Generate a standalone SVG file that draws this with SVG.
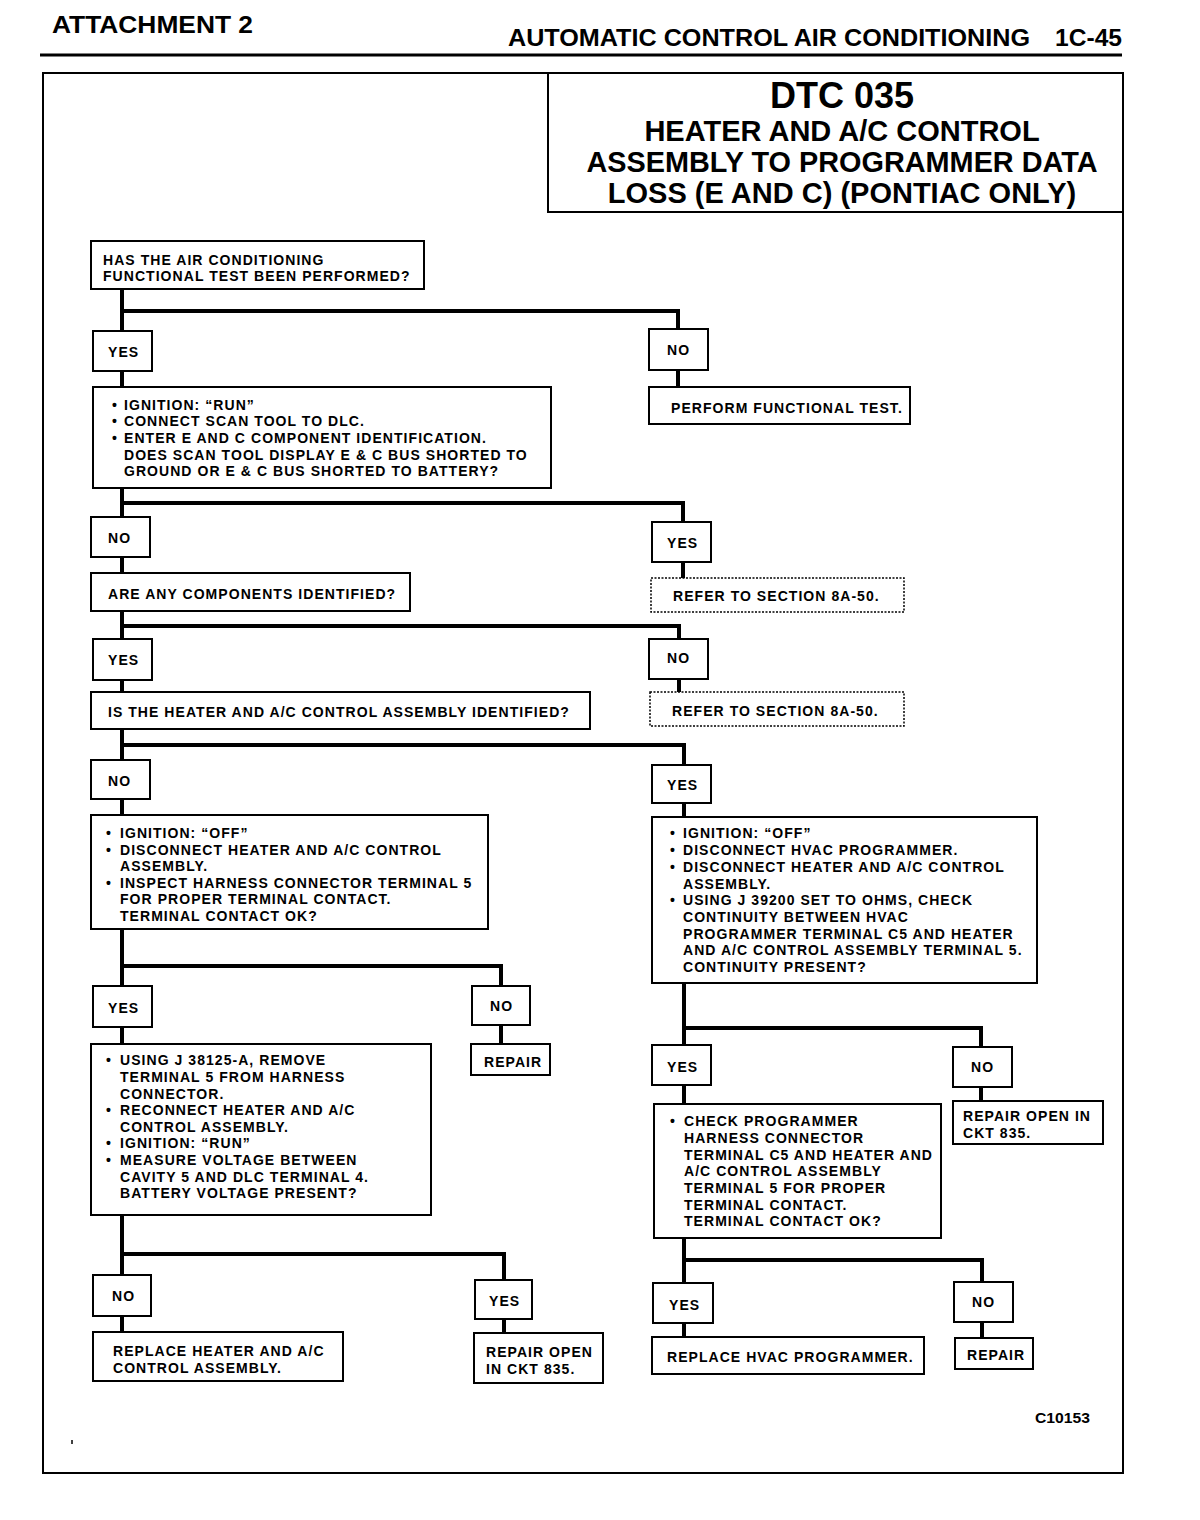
<svg xmlns="http://www.w3.org/2000/svg" width="1200" height="1520" viewBox="0 0 1200 1520">
<style>
.bg{fill:#fff}
.box{fill:#fff;stroke:#000;stroke-width:2}
.dot{fill:#fff;stroke:#000;stroke-width:1.5;stroke-dasharray:2 1.5}
.t{font-family:"Liberation Sans",Arial,sans-serif;font-weight:bold;font-size:14px;letter-spacing:1.05px;fill:#000}
.h{font-family:"Liberation Sans",Arial,sans-serif;font-weight:bold;fill:#000}
.c{fill:none;stroke:#000;stroke-width:4}
</style>
<rect class="bg" x="0" y="0" width="1200" height="1520"/>
<g id="header">
<text class="h" x="52" y="33" font-size="24" textLength="201" lengthAdjust="spacingAndGlyphs">ATTACHMENT 2</text>
<text class="h" x="508" y="46" font-size="24" textLength="522" lengthAdjust="spacingAndGlyphs">AUTOMATIC CONTROL AIR CONDITIONING</text>
<text class="h" x="1055" y="46" font-size="24" textLength="67" lengthAdjust="spacingAndGlyphs">1C-45</text>
<line x1="40" y1="55" x2="1122" y2="55" stroke="#000" stroke-width="3"/>
</g>
<rect id="frame" x="43" y="73" width="1080" height="1400" fill="none" stroke="#000" stroke-width="2"/>
<g id="title">
<rect class="box" x="548" y="73" width="575" height="139"/>
<text class="h" x="842" y="108" font-size="36" text-anchor="middle">DTC 035</text>
<text class="h" x="842" y="141" font-size="29" text-anchor="middle">HEATER AND A/C CONTROL</text>
<text class="h" x="842" y="172" font-size="29" text-anchor="middle" textLength="511" lengthAdjust="spacingAndGlyphs">ASSEMBLY TO PROGRAMMER DATA</text>
<text class="h" x="842" y="203" font-size="29" text-anchor="middle">LOSS (E AND C) (PONTIAC ONLY)</text>
</g>
<g id="connectors">
<path class="c" d="M122,289 V331 M122,371 V387 M122,488 V517 M122,557 V573 M122,611 V639 M122,680 V692 M122,729 V760 M122,799 V815 M122,929 V986 M122,1027 V1044 M122,1215 V1275 M122,1316 V1332"/>
<path class="c" d="M122,311 H678 V329 M678,370 V387"/>
<path class="c" d="M122,503 H683 V522 M683,562 V578"/>
<path class="c" d="M122,626 H679 V639 M679,679 V692"/>
<path class="c" d="M122,745 H684 V765 M684,803 V817"/>
<path class="c" d="M122,966 H501 V986 M501,1025 V1044"/>
<path class="c" d="M122,1254 H504 V1280 M504,1319 V1333"/>
<path class="c" d="M684,983 V1045 M684,1028 H981 V1047 M684,1085 V1104 M981,1087 V1101"/>
<path class="c" d="M684,1238 V1283 M684,1260 H982 V1282 M684,1323 V1337 M982,1322 V1338"/>
</g>
<g id="n1"><rect class="box" x="91" y="241" width="333" height="48"/>
<text class="t" x="103" y="265">HAS THE AIR CONDITIONING</text>
<text class="t" x="103" y="281">FUNCTIONAL TEST BEEN PERFORMED?</text></g>
<g id="n2"><rect class="box" x="93" y="331" width="59" height="40"/><text class="t" x="108" y="357">YES</text></g>
<g id="n3"><rect class="box" x="649" y="329" width="59" height="41"/><text class="t" x="667" y="355">NO</text></g>
<g id="n4"><rect class="box" x="93" y="387" width="458" height="101"/>
<text class="t" x="112" y="410">•</text><text class="t" x="124" y="410">IGNITION: “RUN”</text>
<text class="t" x="112" y="426">•</text><text class="t" x="124" y="426">CONNECT SCAN TOOL TO DLC.</text>
<text class="t" x="112" y="443">•</text><text class="t" x="124" y="443">ENTER E AND C COMPONENT IDENTIFICATION.</text>
<text class="t" x="124" y="460">DOES SCAN TOOL DISPLAY E &amp; C BUS SHORTED TO</text>
<text class="t" x="124" y="476">GROUND OR E &amp; C BUS SHORTED TO BATTERY?</text></g>
<g id="n5"><rect class="box" x="649" y="387" width="261" height="37"/><text class="t" x="671" y="413">PERFORM FUNCTIONAL TEST.</text></g>
<g id="n6"><rect class="box" x="91" y="517" width="59" height="40"/><text class="t" x="108" y="543">NO</text></g>
<g id="n7"><rect class="box" x="652" y="522" width="59" height="40"/><text class="t" x="667" y="548">YES</text></g>
<g id="n8"><rect class="dot" x="651" y="578" width="253" height="34"/><text class="t" x="673" y="601">REFER TO SECTION 8A-50.</text></g>
<g id="n9"><rect class="box" x="91" y="573" width="319" height="38"/><text class="t" x="108" y="599">ARE ANY COMPONENTS IDENTIFIED?</text></g>
<g id="n10"><rect class="box" x="93" y="639" width="59" height="41"/><text class="t" x="108" y="665">YES</text></g>
<g id="n11"><rect class="box" x="649" y="639" width="59" height="40"/><text class="t" x="667" y="663">NO</text></g>
<g id="n12"><rect class="dot" x="650" y="692" width="254" height="34"/><text class="t" x="672" y="716">REFER TO SECTION 8A-50.</text></g>
<g id="n13"><rect class="box" x="91" y="692" width="499" height="37"/><text class="t" x="108" y="717">IS THE HEATER AND A/C CONTROL ASSEMBLY IDENTIFIED?</text></g>
<g id="n14"><rect class="box" x="91" y="760" width="59" height="39"/><text class="t" x="108" y="786">NO</text></g>
<g id="n15"><rect class="box" x="652" y="765" width="59" height="38"/><text class="t" x="667" y="790">YES</text></g>
<g id="n16"><rect class="box" x="91" y="815" width="397" height="114"/>
<text class="t" x="106" y="838">•</text><text class="t" x="120" y="838">IGNITION:  “OFF”</text>
<text class="t" x="106" y="855">•</text><text class="t" x="120" y="855">DISCONNECT HEATER AND A/C CONTROL</text>
<text class="t" x="120" y="871">ASSEMBLY.</text>
<text class="t" x="106" y="888">•</text><text class="t" x="120" y="888">INSPECT HARNESS CONNECTOR TERMINAL 5</text>
<text class="t" x="120" y="904">FOR PROPER TERMINAL CONTACT.</text>
<text class="t" x="120" y="921">TERMINAL CONTACT OK?</text></g>
<g id="n17"><rect class="box" x="652" y="817" width="385" height="166"/>
<text class="t" x="670" y="838">•</text><text class="t" x="683" y="838">IGNITION: “OFF”</text>
<text class="t" x="670" y="855">•</text><text class="t" x="683" y="855">DISCONNECT HVAC PROGRAMMER.</text>
<text class="t" x="670" y="872">•</text><text class="t" x="683" y="872">DISCONNECT HEATER AND A/C CONTROL</text>
<text class="t" x="683" y="889">ASSEMBLY.</text>
<text class="t" x="670" y="905">•</text><text class="t" x="683" y="905">USING J 39200 SET TO OHMS, CHECK</text>
<text class="t" x="683" y="922">CONTINUITY BETWEEN HVAC</text>
<text class="t" x="683" y="939">PROGRAMMER TERMINAL C5 AND HEATER</text>
<text class="t" x="683" y="955">AND A/C CONTROL ASSEMBLY TERMINAL 5.</text>
<text class="t" x="683" y="972">CONTINUITY PRESENT?</text></g>
<g id="n18"><rect class="box" x="93" y="986" width="59" height="41"/><text class="t" x="108" y="1013">YES</text></g>
<g id="n19"><rect class="box" x="472" y="986" width="58" height="39"/><text class="t" x="490" y="1011">NO</text></g>
<g id="n20"><rect class="box" x="471" y="1044" width="79" height="31"/><text class="t" x="484" y="1067">REPAIR</text></g>
<g id="n21"><rect class="box" x="91" y="1044" width="340" height="171"/>
<text class="t" x="106" y="1065">•</text><text class="t" x="120" y="1065">USING J 38125-A, REMOVE</text>
<text class="t" x="120" y="1082">TERMINAL 5 FROM HARNESS</text>
<text class="t" x="120" y="1099">CONNECTOR.</text>
<text class="t" x="106" y="1115">•</text><text class="t" x="120" y="1115">RECONNECT HEATER AND A/C</text>
<text class="t" x="120" y="1132">CONTROL ASSEMBLY.</text>
<text class="t" x="106" y="1148">•</text><text class="t" x="120" y="1148">IGNITION: “RUN”</text>
<text class="t" x="106" y="1165">•</text><text class="t" x="120" y="1165">MEASURE VOLTAGE BETWEEN</text>
<text class="t" x="120" y="1182">CAVITY 5 AND DLC TERMINAL 4.</text>
<text class="t" x="120" y="1198">BATTERY VOLTAGE PRESENT?</text></g>
<g id="n22"><rect class="box" x="93" y="1275" width="58" height="41"/><text class="t" x="112" y="1301">NO</text></g>
<g id="n23"><rect class="box" x="475" y="1280" width="57" height="39"/><text class="t" x="489" y="1306">YES</text></g>
<g id="n24"><rect class="box" x="93" y="1332" width="250" height="49"/>
<text class="t" x="113" y="1356">REPLACE HEATER AND A/C</text>
<text class="t" x="113" y="1373">CONTROL ASSEMBLY.</text></g>
<g id="n25"><rect class="box" x="474" y="1333" width="129" height="50"/>
<text class="t" x="486" y="1357">REPAIR OPEN</text>
<text class="t" x="486" y="1374">IN CKT 835.</text></g>
<g id="n26"><rect class="box" x="652" y="1045" width="59" height="40"/><text class="t" x="667" y="1072">YES</text></g>
<g id="n27"><rect class="box" x="953" y="1047" width="59" height="40"/><text class="t" x="971" y="1072">NO</text></g>
<g id="n28"><rect class="box" x="953" y="1101" width="150" height="43"/>
<text class="t" x="963" y="1121">REPAIR OPEN IN</text>
<text class="t" x="963" y="1138">CKT 835.</text></g>
<g id="n29"><rect class="box" x="654" y="1104" width="287" height="134"/>
<text class="t" x="670" y="1126">•</text><text class="t" x="684" y="1126">CHECK PROGRAMMER</text>
<text class="t" x="684" y="1143">HARNESS CONNECTOR</text>
<text class="t" x="684" y="1160">TERMINAL C5 AND HEATER AND</text>
<text class="t" x="684" y="1176">A/C CONTROL ASSEMBLY</text>
<text class="t" x="684" y="1193">TERMINAL 5 FOR PROPER</text>
<text class="t" x="684" y="1210">TERMINAL CONTACT.</text>
<text class="t" x="684" y="1226">TERMINAL CONTACT OK?</text></g>
<g id="n30"><rect class="box" x="653" y="1283" width="60" height="40"/><text class="t" x="669" y="1310">YES</text></g>
<g id="n31"><rect class="box" x="954" y="1282" width="59" height="40"/><text class="t" x="972" y="1307">NO</text></g>
<g id="n32"><rect class="box" x="652" y="1337" width="272" height="37"/><text class="t" x="667" y="1362">REPLACE HVAC PROGRAMMER.</text></g>
<g id="n33"><rect class="box" x="955" y="1338" width="78" height="31"/><text class="t" x="967" y="1360">REPAIR</text></g>
<text class="h" x="1035" y="1423" font-size="14" textLength="55" lengthAdjust="spacingAndGlyphs">C10153</text>
<path d="M72,1440 v4" stroke="#000" stroke-width="1.5"/>
</svg>
